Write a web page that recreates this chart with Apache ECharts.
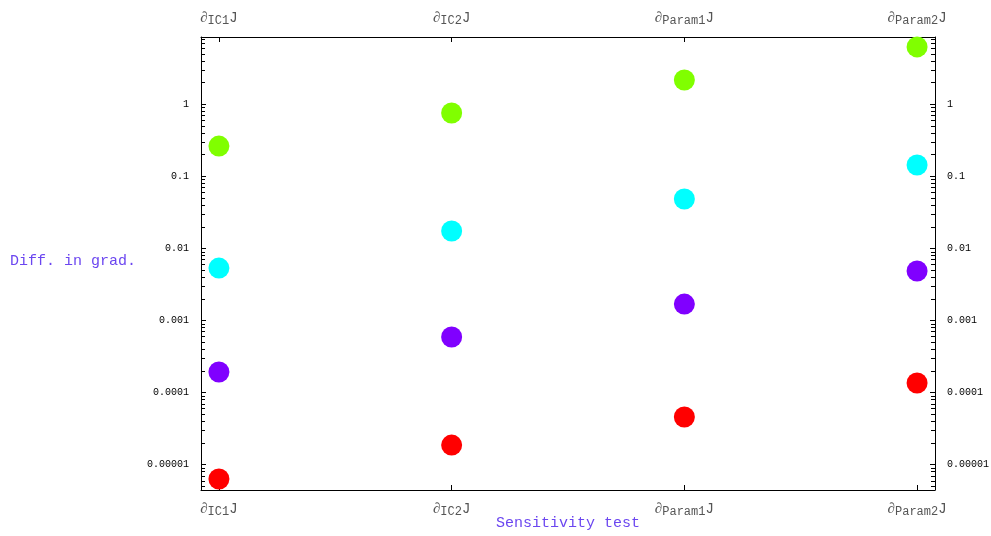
<!DOCTYPE html>
<html>
<head>
<meta charset="utf-8">
<script src="https://cdn.jsdelivr.net/npm/echarts@6/dist/echarts.min.js"></script>
<style>
  html, body { margin: 0; padding: 0; background: #fff; }
  #chart { width: 991px; height: 536px; }
</style>
</head>
<body>
<div id="chart"></div>
<script>
// sensitivity tests (subscript of the derivative label)
const categories = ['IC1', 'IC2', 'Param1', 'Param2']
// difference in gradient, one array per marker colour
const seriesGreen = [0.261, 0.75, 2.15, 6.2]
const seriesCyan = [0.0053, 0.0173, 0.0481, 0.1426]
const seriesPurple = [0.000192, 0.000586, 0.00168, 0.00483]
const seriesRed = [6.3e-6, 1.86e-5, 4.56e-5, 1.35e-4]
// y tick labels (log axis)
const yTickLabels = ['0.00001', '0.0001', '0.001', '0.01', '0.1', '1']
const yMin = 4.43e-6
const yMax = 8.5

const axisColor = '#000'
const nameColor = '#6b46f0'

// minor ticks at 2..9 of each decade
let minorTicks = []
for (let e = -6; e <= 0; e++) {
  for (let k = 2; k <= 9; k++) {
    let v = k * Math.pow(10, e)
    if (v > yMin && v < yMax) minorTicks.push([0, v])
  }
}

function yLabel (v) {
  let t = yTickLabels.find(s => Math.abs(Math.log10(+s) - Math.log10(v)) < 1e-6)
  return t || ''
}

function xLabel (v) {
  if (Math.abs(v - Math.round(v)) > 1e-6) return ''
  let c = categories[Math.round(v)]
  return c ? '{d|∂}{s|' + c + '}{j|J}' : ''
}

const richLabel = {
  d: { fontFamily: 'Liberation Serif', fontSize: 15, color: '#555', lineHeight: 18 },
  j: { fontFamily: 'Liberation Mono', fontSize: 14, color: '#555', lineHeight: 18 },
  s: { fontFamily: 'Liberation Mono', fontSize: 12, color: '#555', padding: [6, 0, 0, 0], lineHeight: 18 }
}

function xAxisOf (position, nameShown) {
  return {
    type: 'value',
    position: position,
    min: -0.077,
    max: 3.077,
    splitNumber: 3,
    name: nameShown ? 'Sensitivity test' : '',
    nameLocation: 'middle',
    nameGap: 26,
    nameMoveOverlap: false,
    nameTextStyle: { fontFamily: 'Liberation Mono', fontSize: 15, color: nameColor },
    axisLine: { show: true, onZero: false, lineStyle: { color: axisColor, width: 1 } },
    axisTick: { show: true, inside: true, length: 5, lineStyle: { color: axisColor } },
    splitLine: { show: false },
    axisLabel: {
      formatter: xLabel,
      margin: 10,
      showMinLabel: false,
      showMaxLabel: false,
      rich: richLabel
    }
  }
}

function yAxisOf (position) {
  return {
    type: 'log',
    logBase: 10,
    position: position,
    min: yMin,
    max: yMax,
    axisLine: { show: true, onZero: false, lineStyle: { color: axisColor, width: 1 } },
    axisTick: { show: true, inside: true, length: 5, lineStyle: { color: axisColor } },
    splitLine: { show: false },
    axisLabel: {
      formatter: yLabel,
      margin: 12,
      showMinLabel: false,
      showMaxLabel: false,
      fontFamily: 'Liberation Mono',
      fontSize: 10,
      color: '#000'
    }
  }
}

function scatterOf (values, color) {
  return {
    type: 'scatter',
    symbol: 'circle',
    symbolSize: 21,
    itemStyle: { color: color, opacity: 1 },
    data: values.map((v, i) => [i, v])
  }
}

let chart = echarts.init(document.getElementById('chart'), null, { renderer: 'canvas' })
chart.setOption({
  backgroundColor: '#fff',
  animation: false,
  grid: { left: 201, right: 56, top: 37, bottom: 46, containLabel: false, outerBoundsMode: 'none' },
  xAxis: [xAxisOf('bottom', true), xAxisOf('top', false)],
  yAxis: [yAxisOf('left'), yAxisOf('right')],
  graphic: [{
    type: 'text',
    left: 10,
    top: 254,
    style: { text: 'Diff. in grad.', fontFamily: 'Liberation Mono', fontSize: 15, fill: nameColor }
  }],
  series: [
    {
      type: 'custom',
      silent: true,
      renderItem (params, api) {
        let y = Math.round(api.coord([0, api.value(1)])[1]) + 0.5
        let cs = params.coordSys
        let st = { stroke: axisColor, lineWidth: 1 }
        return {
          type: 'group',
          children: [
            { type: 'line', shape: { x1: cs.x, y1: y, x2: cs.x + 4, y2: y }, style: st },
            { type: 'line', shape: { x1: cs.x + cs.width - 4, y1: y, x2: cs.x + cs.width, y2: y }, style: st }
          ]
        }
      },
      data: minorTicks
    },
    scatterOf(seriesRed, '#ff0000'),
    scatterOf(seriesPurple, '#8000ff'),
    scatterOf(seriesCyan, '#00ffff'),
    scatterOf(seriesGreen, '#80ff00')
  ]
})
</script>
</body>
</html>
